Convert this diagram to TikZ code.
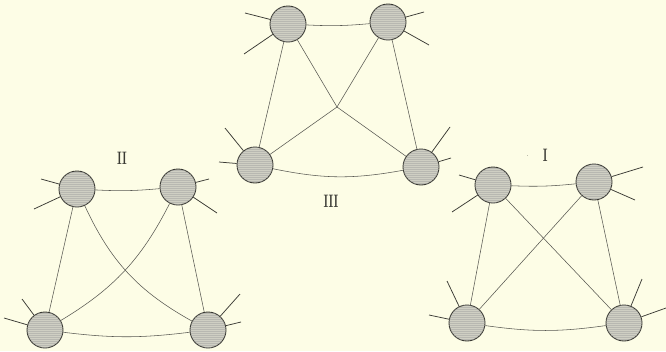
\documentclass[tikz,border=0pt]{standalone}
\usepackage{graphicx}
\usetikzlibrary{patterns}
\definecolor{paper}{HTML}{FDFDE6}
\definecolor{ballfill}{HTML}{CFCFC3}
\definecolor{ink}{HTML}{3A3A34}
\pgfdeclarepatternformonly{fineh}{\pgfpointorigin}{\pgfpoint{1pt}{1.9pt}}{\pgfpoint{1pt}{1.9pt}}{\pgfpathrectangle{\pgfpointorigin}{\pgfpoint{1pt}{0.7pt}}\pgfusepath{fill}}
\newcommand{\numtxt}[1]{\scalebox{0.75}[1.2]{\bfseries\fontsize{15}{15}\selectfont #1}}
\tikzset{
  ball/.style={circle, minimum size=36pt, inner sep=0pt, draw=ink, line width=0.9pt,
    fill=ballfill, postaction={pattern=fineh, pattern color=black!40}},
  edge/.style={draw=ink!85, line width=0.55pt},
  spike/.style={draw=ink, line width=0.75pt},
  numeral/.style={text=ink, inner sep=0pt}
}
\begin{document}
\begin{tikzpicture}[x=1pt,y=-1pt]
\fill[paper] (0,0) rectangle (666,351);
\useasboundingbox (0,0) rectangle (666,351);

% ---------- III (top centre) ----------
\node[ball] (a1) at (288,24) {};
\node[ball] (a2) at (388,22) {};
\node[ball] (a3) at (255,165) {};
\node[ball] (a4) at (421,167) {};
\coordinate (ax) at (337,107);
\draw[edge] (a1) to[bend right=4] (a2);
\draw[edge] (a3) to[bend right=11] (a4);
\draw[edge] (a1) -- (a3);
\draw[edge] (a2) -- (a4);
\draw[edge] (a1) -- (ax) -- (a4);
\draw[edge] (a2) -- (ax) -- (a3);
\coordinate (as1) at (245,13); \coordinate (as2) at (244,54);
\coordinate (as3) at (424,12); \coordinate (as4) at (429,45);
\coordinate (as5) at (225,128); \coordinate (as6) at (219,162);
\coordinate (as7) at (450,127); \coordinate (as8) at (451,158);
\draw[spike] (a1) -- (as1); \draw[spike] (a1) -- (as2);
\draw[spike] (a2) -- (as3); \draw[spike] (a2) -- (as4);
\draw[spike] (a3) -- (as5); \draw[spike] (a3) -- (as6);
\draw[spike] (a4) -- (as7); \draw[spike] (a4) -- (as8);
\node[numeral] (la) at (331,201) {\numtxt{III}};

% ---------- II (left) ----------
\node[ball] (b1) at (77,189) {};
\node[ball] (b2) at (178,187) {};
\node[ball] (b3) at (45,330) {};
\node[ball] (b4) at (208,330) {};
\draw[edge] (b1) to[bend right=4] (b2);
\draw[edge] (b3) to[bend right=7] (b4);
\draw[edge] (b1) -- (b3);
\draw[edge] (b2) -- (b4);
\draw[edge] (b1) to[bend right=18] (b4);
\draw[edge] (b2) to[bend left=16] (b3);
\coordinate (bs1) at (41,179); \coordinate (bs2) at (34,209);
\coordinate (bs3) at (209,179); \coordinate (bs4) at (217,213);
\coordinate (bs5) at (22,299); \coordinate (bs6) at (4,318);
\coordinate (bs7) at (240,294); \coordinate (bs8) at (241,322);
\draw[spike] (b1) -- (bs1); \draw[spike] (b1) -- (bs2);
\draw[spike] (b2) -- (bs3); \draw[spike] (b2) -- (bs4);
\draw[spike] (b3) -- (bs5); \draw[spike] (b3) -- (bs6);
\draw[spike] (b4) -- (bs7); \draw[spike] (b4) -- (bs8);
\node[numeral] (lb) at (122,158) {\numtxt{II}};

% ---------- I (right) ----------
\node[ball] (c1) at (493,185) {};
\node[ball] (c2) at (594,182) {};
\node[ball] (c3) at (467,323) {};
\node[ball] (c4) at (624,323) {};
\draw[edge] (c1) to[bend right=4] (c2);
\draw[edge] (c3) to[bend right=8] (c4);
\draw[edge] (c1) -- (c3);
\draw[edge] (c2) -- (c4);
\draw[edge] (c1) -- (c4);
\draw[edge] (c2) -- (c3);
\coordinate (cs1) at (459,175); \coordinate (cs2) at (452,212);
\coordinate (cs3) at (643,167); \coordinate (cs4) at (635,200);
\coordinate (cs5) at (447,281); \coordinate (cs6) at (429,315);
\coordinate (cs7) at (642,279); \coordinate (cs8) at (666,308);
\draw[spike] (c1) -- (cs1); \draw[spike] (c1) -- (cs2);
\draw[spike] (c2) -- (cs3); \draw[spike] (c2) -- (cs4);
\draw[spike] (c3) -- (cs5); \draw[spike] (c3) -- (cs6);
\draw[spike] (c4) -- (cs7); \draw[spike] (c4) -- (cs8);
\node[numeral] (lc) at (537,155) {{\fontsize{7}{7}\selectfont\raisebox{1.4ex}{.}}\hspace{14pt}\numtxt{I}};
\end{tikzpicture}
\end{document}
